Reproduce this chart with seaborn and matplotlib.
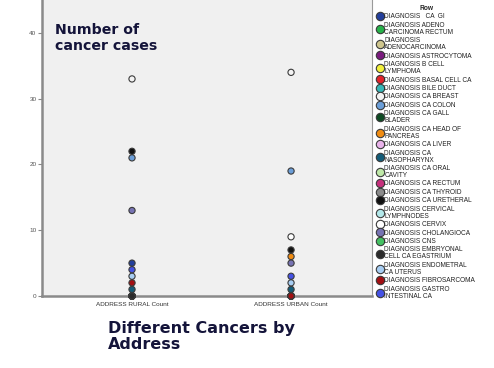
import matplotlib
matplotlib.use("Agg")
import matplotlib.pyplot as plt
import seaborn as sns
import pandas as pd

diagnoses = [
    "DIAGNOSIS   CA  GI",
    "DIAGNOSIS ADENO\nCARCINOMA RECTUM",
    "DIAGNOSIS\nADENOCARCINOMA",
    "DIAGNOSIS ASTROCYTOMA",
    "DIAGNOSIS B CELL\nLYMPHOMA",
    "DIAGNOSIS BASAL CELL CA",
    "DIAGNOSIS BILE DUCT",
    "DIAGNOSIS CA BREAST",
    "DIAGNOSIS CA COLON",
    "DIAGNOSIS CA GALL\nBLADER",
    "DIAGNOSIS CA HEAD OF\nPANCREAS",
    "DIAGNOSIS CA LIVER",
    "DIAGNOSIS CA\nNASOPHARYNX",
    "DIAGNOSIS CA ORAL\nCAVITY",
    "DIAGNOSIS CA RECTUM",
    "DIAGNOSIS CA THYROID",
    "DIAGNOSIS CA URETHERAL",
    "DIAGNOSIS CERVICAL\nLYMPHNODES",
    "DIAGNOSIS CERVIX",
    "DIAGNOSIS CHOLANGIOCA",
    "DIAGNOSIS CNS",
    "DIAGNOSIS EMBRYONAL\nCELL CA EGASTRIUM",
    "DIAGNOSIS ENDOMETRAL\nCA UTERUS",
    "DIAGNOSIS FIBROSARCOMA",
    "DIAGNOSIS GASTRO\nINTESTINAL CA",
]
rural_counts = [5, 0, 0, 0, 0, 0, 0, 33, 21, 0, 0, 0, 1, 0, 0, 0, 22, 0, 0, 13, 0, 0, 3, 2, 4]
urban_counts = [0, 0, 0, 0, 0, 0, 0, 34, 19, 0, 6, 0, 1, 0, 0, 0, 7, 0, 9, 5, 0, 0, 2, 0, 3]
address_labels = ["ADDRESS RURAL Count", "ADDRESS URBAN Count"]
colors = [
    "#233f9c", "#27b34a", "#cfc68e", "#7a1a7e", "#f2f03c", "#e3232a", "#35b7b7",
    "#f4f4f4", "#6b9ed8", "#0d4a22", "#f08c12", "#e9b3ea", "#135c78", "#bfe9a8",
    "#c6307c", "#8a8a8a", "#111111", "#b3e8ea", "#ffffff", "#7773b3", "#44c062",
    "#2b2b2b", "#a7cdf2", "#a30f12", "#4451e4",
]
y_ticks = [0, 10, 20, 30, 40]

rows = []
for lab, vals in zip(address_labels, [rural_counts, urban_counts]):
    for d, v in zip(diagnoses, vals):
        rows.append({"address": lab, "count": v, "diagnosis": d})
df = pd.DataFrame(rows)

sns.set_style("white")
plt.rcParams["font.family"] = ["Liberation Sans", "DejaVu Sans"]

fig = plt.figure(figsize=(4.94, 3.68), dpi=100)
ax = fig.add_axes([42 / 494, 1 - 296 / 368, 330 / 494, 296 / 368])
ax.set_facecolor("#f0f0f0")

sns.scatterplot(data=df, x="address", y="count", hue="diagnosis",
                hue_order=diagnoses, palette=dict(zip(diagnoses, colors)),
                s=20, edgecolor="#3a3a3a", linewidth=0.8, ax=ax,
                legend=True, clip_on=False, zorder=3)

handles, labels = ax.get_legend_handles_labels()
ax.get_legend().remove()
leg = fig.legend(handles, labels, title="Row", loc="upper left",
                 bbox_to_anchor=(372 / 494, 1.0), frameon=False,
                 fontsize=4.7, title_fontsize=4.8, labelspacing=0.22,
                 handletextpad=0.15, handlelength=1.0, borderpad=0.25,
                 markerscale=1.35, alignment="center")
leg.get_title().set_fontweight("bold")
for t in leg.get_texts():
    t.set_color("#222222")
    t.set_linespacing(1.0)

ax.set_xlim(-0.566, 1.509)
ax.set_ylim(0, 45)
ax.set_yticks(y_ticks)
ax.set_xticks([0, 1])
ax.set_xticklabels(address_labels)
ax.tick_params(axis="y", labelsize=4.6, labelcolor="#555555", length=3,
               color="#888888", width=0.8, left=True, pad=1)
ax.tick_params(axis="x", labelsize=4.6, labelcolor="#333333", length=0, pad=4)
ax.set_xlabel("")
ax.set_ylabel("")

for side in ["left", "bottom"]:
    ax.spines[side].set_color("#8a8a8a")
    ax.spines[side].set_linewidth(1.8)
ax.spines["right"].set_color("#9a9a9a")
ax.spines["right"].set_linewidth(0.8)
ax.spines["top"].set_visible(False)

fig.text(55 / 494, 1 - 50 / 368, "Number of\ncancer cases",
         fontsize=10.2, fontweight="bold", color="#14143a", va="baseline",
         ha="left", family="DejaVu Sans", linespacing=1.15)
fig.text(108 / 494, 1 - 349 / 368, "Different Cancers by\nAddress",
         fontsize=11.5, fontweight="bold", color="#14143a", va="baseline",
         ha="left", family="DejaVu Sans", linespacing=1.05)

fig.savefig("out.png", dpi=100)
